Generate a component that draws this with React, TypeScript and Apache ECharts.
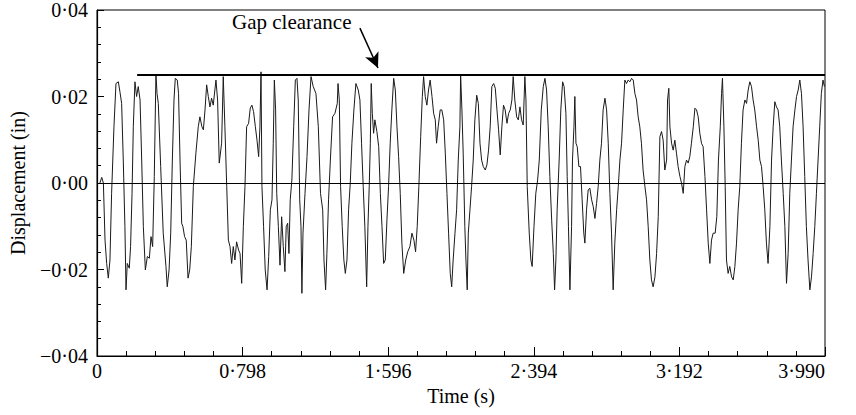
import React, { useEffect, useRef } from "react";
import * as echarts from "echarts";

// Time (s) and displacement (in)
const timeS: number[] = [
  0.016, 0.026, 0.035, 0.044, 0.053, 0.062, 0.071, 0.080, 0.093, 0.104, 0.117, 0.126, 0.135, 0.144, 0.153, 0.159, 0.166, 0.177, 0.184, 0.192,
  0.199, 0.208, 0.217, 0.226, 0.236, 0.245, 0.254, 0.265, 0.276, 0.287, 0.296, 0.305, 0.314, 0.323, 0.329, 0.336, 0.349, 0.363, 0.378, 0.385,
  0.395, 0.404, 0.413, 0.422, 0.429, 0.440, 0.447, 0.455, 0.464, 0.471, 0.480, 0.489, 0.499, 0.508, 0.517, 0.528, 0.542, 0.555, 0.564, 0.575,
  0.583, 0.592, 0.601, 0.610, 0.619, 0.628, 0.637, 0.652, 0.661, 0.670, 0.683, 0.692, 0.701, 0.711, 0.720, 0.729, 0.738, 0.747, 0.756, 0.765,
  0.776, 0.784, 0.793, 0.802, 0.811, 0.820, 0.831, 0.840, 0.849, 0.858, 0.868, 0.877, 0.886, 0.893, 0.899, 0.904, 0.913, 0.922, 0.932, 0.941,
  0.950, 0.959, 0.966, 0.972, 0.979, 0.985, 0.994, 1.003, 1.012, 1.021, 1.030, 1.037, 1.045, 1.052, 1.059, 1.068, 1.078, 1.087, 1.096, 1.103,
  1.111, 1.118, 1.123, 1.129, 1.140, 1.151, 1.162, 1.173, 1.185, 1.200, 1.213, 1.225, 1.237, 1.244, 1.253, 1.260, 1.269, 1.279, 1.291, 1.304,
  1.317, 1.321, 1.328, 1.335, 1.344, 1.353, 1.361, 1.370, 1.379, 1.388, 1.397, 1.408, 1.419, 1.432, 1.441, 1.450, 1.459, 1.468, 1.478, 1.485,
  1.492, 1.498, 1.503, 1.509, 1.516, 1.523, 1.534, 1.544, 1.553, 1.562, 1.571, 1.580, 1.589, 1.598, 1.607, 1.616, 1.626, 1.635, 1.644, 1.653,
  1.662, 1.671, 1.681, 1.692, 1.703, 1.715, 1.726, 1.737, 1.746, 1.755, 1.764, 1.774, 1.783, 1.790, 1.799, 1.808, 1.817, 1.826, 1.836, 1.845,
  1.854, 1.861, 1.870, 1.881, 1.890, 1.900, 1.909, 1.918, 1.927, 1.936, 1.944, 1.952, 1.962, 1.971, 1.980, 1.989, 1.993, 2.000, 2.007, 2.016,
  2.022, 2.029, 2.035, 2.044, 2.053, 2.062, 2.071, 2.081, 2.090, 2.099, 2.108, 2.117, 2.128, 2.137, 2.146, 2.155, 2.164, 2.174, 2.183, 2.192,
  2.201, 2.210, 2.219, 2.228, 2.237, 2.247, 2.256, 2.265, 2.274, 2.281, 2.290, 2.300, 2.309, 2.318, 2.327, 2.336, 2.345, 2.351, 2.358, 2.369,
  2.378, 2.385, 2.395, 2.405, 2.415, 2.424, 2.435, 2.446, 2.455, 2.464, 2.473, 2.482, 2.492, 2.501, 2.508, 2.515, 2.522, 2.533, 2.542, 2.552,
  2.560, 2.570, 2.577, 2.584, 2.592, 2.601, 2.606, 2.614, 2.619, 2.625, 2.632, 2.641, 2.650, 2.659, 2.668, 2.674, 2.683, 2.692, 2.701, 2.711,
  2.720, 2.729, 2.738, 2.747, 2.756, 2.765, 2.774, 2.784, 2.793, 2.802, 2.811, 2.820, 2.829, 2.838, 2.848, 2.857, 2.866, 2.875, 2.884, 2.893,
  2.902, 2.911, 2.921, 2.930, 2.939, 2.948, 2.957, 2.966, 2.975, 2.984, 2.993, 3.003, 3.012, 3.021, 3.030, 3.039, 3.048, 3.058, 3.067, 3.076,
  3.085, 3.094, 3.103, 3.112, 3.122, 3.127, 3.134, 3.140, 3.149, 3.158, 3.167, 3.176, 3.185, 3.195, 3.204, 3.213, 3.222, 3.231, 3.240, 3.249,
  3.258, 3.268, 3.277, 3.286, 3.295, 3.304, 3.313, 3.322, 3.332, 3.341, 3.350, 3.359, 3.368, 3.377, 3.388, 3.397, 3.406, 3.416, 3.423, 3.428,
  3.436, 3.443, 3.450, 3.459, 3.468, 3.478, 3.487, 3.496, 3.505, 3.514, 3.523, 3.532, 3.541, 3.551, 3.560, 3.569, 3.578, 3.587, 3.596, 3.605,
  3.615, 3.624, 3.633, 3.642, 3.651, 3.660, 3.669, 3.678, 3.688, 3.697, 3.706, 3.715, 3.724, 3.733, 3.742, 3.751, 3.761, 3.770, 3.779, 3.788,
  3.797, 3.806, 3.815, 3.825, 3.834, 3.843, 3.852, 3.861, 3.870, 3.879, 3.888, 3.897, 3.907, 3.916, 3.925, 3.934, 3.943, 3.952, 3.961, 3.970,
  3.979, 3.987,
];

const dispIn: number[] = [
  0.0, 0.0013, 0.0, -0.0132, -0.0186, -0.022, -0.0178, -0.0024, 0.013, 0.023, 0.0234, 0.021, 0.0184, 0.0053, -0.0101, -0.0247, -0.0186, -0.0197, -0.0147, -0.0024,
  0.013, 0.0234, 0.02, 0.0223, 0.0192, 0.0053, -0.0101, -0.0201, -0.017, -0.0174, -0.0124, -0.0147, 0.0015, 0.0252, 0.0207, 0.0184, 0.0038, -0.0116, -0.0193, -0.024,
  -0.0201, -0.0116, 0.0053, 0.0192, 0.0242, 0.0238, 0.0207, 0.0053, -0.0093, -0.0101, -0.0124, -0.0132, -0.022, -0.0201, -0.0147, -0.0008, 0.0069, 0.013, 0.0153, 0.013,
  0.0123, 0.0169, 0.0227, 0.02, 0.0176, 0.0196, 0.018, 0.0238, 0.0192, 0.0046, 0.0092, 0.0246, 0.013, -0.0008, -0.0132, -0.0147, -0.0186, -0.0147, -0.0178, -0.0136,
  -0.0155, -0.0163, -0.0232, -0.0101, -0.0008, 0.013, 0.0138, 0.0173, 0.018, 0.0165, 0.013, 0.0099, 0.0061, 0.013, 0.0257, -0.0008, -0.0101, -0.0201, -0.0247, -0.017,
  -0.0062, -0.0039, 0.0092, 0.0238, 0.0169, -0.0024, -0.0101, -0.019, -0.0078, -0.0147, -0.0205, -0.0101, -0.0093, -0.0163, -0.0039, 0.0007, 0.013, 0.0238, 0.0242, 0.0192,
  -0.0039, -0.0101, -0.0255, -0.0116, -0.0024, 0.0061, 0.0169, 0.0246, 0.0223, 0.0207, 0.013, -0.0024, -0.0062, -0.0178, -0.0247, -0.0163, -0.0039, 0.0053, 0.0153, 0.0161,
  0.0184, 0.023, 0.0192, -0.0008, -0.0101, -0.0178, -0.0209, -0.0178, -0.0062, -0.0001, 0.0092, 0.0169, 0.023, 0.0215, 0.0192, 0.0092, -0.0008, -0.0101, -0.024, -0.0101,
  -0.0008, 0.0092, 0.023, 0.0161, 0.0115, 0.0146, 0.0119, 0.0084, -0.0024, -0.0101, -0.0186, -0.0178, -0.0086, -0.0008, 0.0092, 0.0169, 0.0242, 0.0215, 0.013, 0.0061,
  -0.0024, -0.0139, -0.0209, -0.0178, -0.0159, -0.0147, -0.0116, -0.0132, -0.0159, -0.0101, -0.0008, 0.0107, 0.02, 0.0246, 0.02, 0.018, 0.0215, 0.0238, 0.02, 0.0161,
  0.0146, 0.0092, 0.013, 0.0169, 0.0169, 0.0146, 0.0069, -0.0024, -0.0116, -0.0209, -0.024, -0.0178, -0.0116, -0.0062, 0.0053, 0.013, 0.025, 0.0169, 0.0069, -0.0101,
  -0.0178, -0.0247, -0.0116, -0.0062, -0.0008, 0.0053, 0.0146, 0.0203, 0.0184, 0.0092, 0.0053, 0.0038, 0.003, 0.0042, 0.0076, 0.013, 0.0223, 0.023, 0.0219, 0.0169,
  0.0123, 0.0065, 0.013, 0.018, 0.0169, 0.0138, 0.0161, 0.0169, 0.0192, 0.0246, 0.0192, 0.0153, 0.0146, 0.0176, 0.0146, 0.0134, 0.0246, 0.0192, -0.0008, -0.0116,
  -0.0178, -0.0193, -0.0101, -0.0024, 0.0007, 0.0053, 0.0169, 0.0223, 0.0242, 0.0215, 0.013, 0.0015, -0.0086, -0.0163, -0.0247, -0.0178, -0.0062, 0.0053, 0.0169, 0.0234,
  0.0223, 0.0161, 0.0015, -0.0101, -0.0247, -0.0101, 0.0053, 0.013, 0.02, 0.0092, 0.0084, 0.0038, 0.0038, -0.0039, -0.0116, -0.0139, -0.0062, -0.0016, -0.0012, -0.0039,
  -0.0055, -0.0082, -0.0047, -0.0008, 0.0053, 0.0092, 0.0169, 0.0196, 0.0169, 0.0092, -0.0024, -0.0116, -0.0247, -0.0139, -0.0062, -0.0008, 0.0053, 0.0092, 0.0169, 0.0238,
  0.023, 0.0238, 0.0234, 0.0242, 0.0238, 0.0207, 0.0192, 0.0153, 0.013, 0.0092, 0.003, -0.0008, -0.0039, -0.0101, -0.0178, -0.0224, -0.024, -0.0217, -0.0163, -0.0078,
  0.0107, 0.0119, 0.0099, 0.003, 0.0053, 0.0192, 0.0219, 0.013, 0.0092, 0.0076, 0.0099, 0.0069, 0.0038, 0.0015, -0.0001, -0.0024, 0.0038, 0.0053, 0.0046, 0.0061,
  0.0092, 0.013, 0.0173, 0.0169, 0.0153, 0.0115, 0.0092, 0.0084, 0.0015, -0.0062, -0.0139, -0.0186, -0.0132, -0.0116, -0.0116, -0.0078, 0.0053, 0.013, 0.0207, 0.0242,
  0.013, -0.0008, -0.0178, -0.0209, -0.0193, -0.0217, -0.0224, -0.0193, -0.0139, -0.0062, -0.0008, 0.0092, 0.0169, 0.0192, 0.0184, 0.0215, 0.0234, 0.0223, 0.0192, 0.0169,
  0.013, 0.0099, 0.0053, 0.0038, -0.0008, -0.0062, -0.0139, -0.0186, -0.0101, 0.0053, 0.013, 0.0188, 0.0176, 0.0169, 0.013, 0.0053, -0.0024, -0.0101, -0.0232, -0.0163,
  -0.0024, 0.0053, 0.013, 0.0169, 0.02, 0.0215, 0.0238, 0.0207, 0.013, 0.0015, -0.0101, -0.0178, -0.0247, -0.0217, -0.0163, -0.0101, -0.0024, 0.0053, 0.013, 0.0207,
  0.0238, 0.0223,
];

// Gap clearance line
const gapTime: number[] = [0.22, 3.99];
const gapValue: number[] = [0.025, 0.025];

// Axis ticks
const xMax = 3.99;
const xInterval = 0.798;
const yMin = -0.04;
const yMax = 0.04;
const yInterval = 0.02;

// Annotation arrow (data coords: tail -> head)
const arrowTail: [number, number] = [1.441, 0.0358];
const arrowHead: [number, number] = [1.54, 0.0266];
const annotationText = "Gap clearance";

const FONT = "'Liberation Serif', 'DejaVu Serif', serif";

const fmtX = (v: number) => {
  if (Math.abs(v) < 1e-9) return "0";
  return v.toFixed(3).replace(".", "\u00b7");
};
const fmtY = (v: number) => {
  const s = Math.abs(v).toFixed(2).replace(".", "\u00b7");
  return v < -1e-9 ? "\u2212" + s : s;
};

export default function App() {
  const ref = useRef<HTMLDivElement>(null);
  useEffect(() => {
    if (!ref.current) return;
    const chart = echarts.init(ref.current, undefined, { renderer: "svg" });
    const trace = timeS.map((t, i) => [t, dispIn[i]]);
    const gap = gapTime.map((t, i) => [t, gapValue[i]]);
    chart.setOption({
      animation: false,
      backgroundColor: "#fff",
      grid: {
        left: 97,
        right: 31,
        top: 10,
        bottom: 59,
        show: true,
        borderColor: "#000",
        borderWidth: 1,
        backgroundColor: "transparent",
        containLabel: false,
        outerBoundsMode: "none",
      },
      xAxis: {
        type: "value",
        min: 0,
        max: xMax,
        interval: xInterval,
        axisLine: { show: true, onZero: false, lineStyle: { color: "#000", width: 1.2 } },
        axisTick: { show: true, inside: true, length: 9, lineStyle: { color: "#000", width: 1 } },
        minorTick: { show: true, splitNumber: 5, length: 5, lineStyle: { color: "#000", width: 1 } },
        splitLine: { show: false },
        minorSplitLine: { show: false },
        axisLabel: {
          formatter: fmtX,
          color: "#000",
          fontFamily: FONT,
          fontSize: 20,
          margin: 5,
          alignMaxLabel: "right",
          showMinLabel: true,
          showMaxLabel: true,
        },
        name: "Time (s)",
        nameLocation: "middle",
        nameGap: 28,
        nameTextStyle: { color: "#000", fontFamily: FONT, fontSize: 20, verticalAlign: "top" },
      },
      yAxis: {
        type: "value",
        min: yMin,
        max: yMax,
        interval: yInterval,
        axisLine: { show: true, onZero: false, lineStyle: { color: "#000", width: 1.2 } },
        axisTick: { show: true, inside: true, length: 7, lineStyle: { color: "#000", width: 1 } },
        minorTick: { show: true, splitNumber: 5, length: 4, lineStyle: { color: "#000", width: 1 } },
        splitLine: { show: false },
        minorSplitLine: { show: false },
        axisLabel: {
          formatter: fmtY,
          color: "#000",
          fontFamily: FONT,
          fontSize: 20,
          margin: 9,
        },
        name: "Displacement (in)",
        nameLocation: "middle",
        nameRotate: 90,
        nameGap: 69,
        nameTextStyle: { color: "#000", fontFamily: FONT, fontSize: 20 },
      },
      graphic: [
        {
          type: "text",
          left: 232,
          top: 11,
          style: { text: annotationText, fill: "#000", font: `21px ${FONT}` },
        },
      ],
      series: [
        {
          type: "line",
          data: trace,
          showSymbol: false,
          symbol: "none",
          lineStyle: { color: "#1a1a1a", width: 1 },
          silent: true,
          z: 3,
          markLine: {
            silent: true,
            symbol: "none",
            label: { show: false },
            lineStyle: { color: "#000", width: 1, type: "solid" },
            data: [{ yAxis: 0 }],
          },
        },
        {
          type: "line",
          data: gap,
          showSymbol: false,
          symbol: "none",
          lineStyle: { color: "#000", width: 2 },
          silent: true,
          z: 4,
          markLine: {
            silent: true,
            symbol: ["none", "arrow"],
            symbolSize: [11, 15],
            label: { show: false },
            lineStyle: { color: "#000", width: 1.5, type: "solid" },
            data: [[{ coord: arrowTail }, { coord: arrowHead }]],
          },
        },
      ],
    });
    return () => chart.dispose();
  }, []);
  return (
    <div
      ref={ref}
      style={{ position: "absolute", left: 0, top: 0, width: 856, height: 415 }}
    />
  );
}
